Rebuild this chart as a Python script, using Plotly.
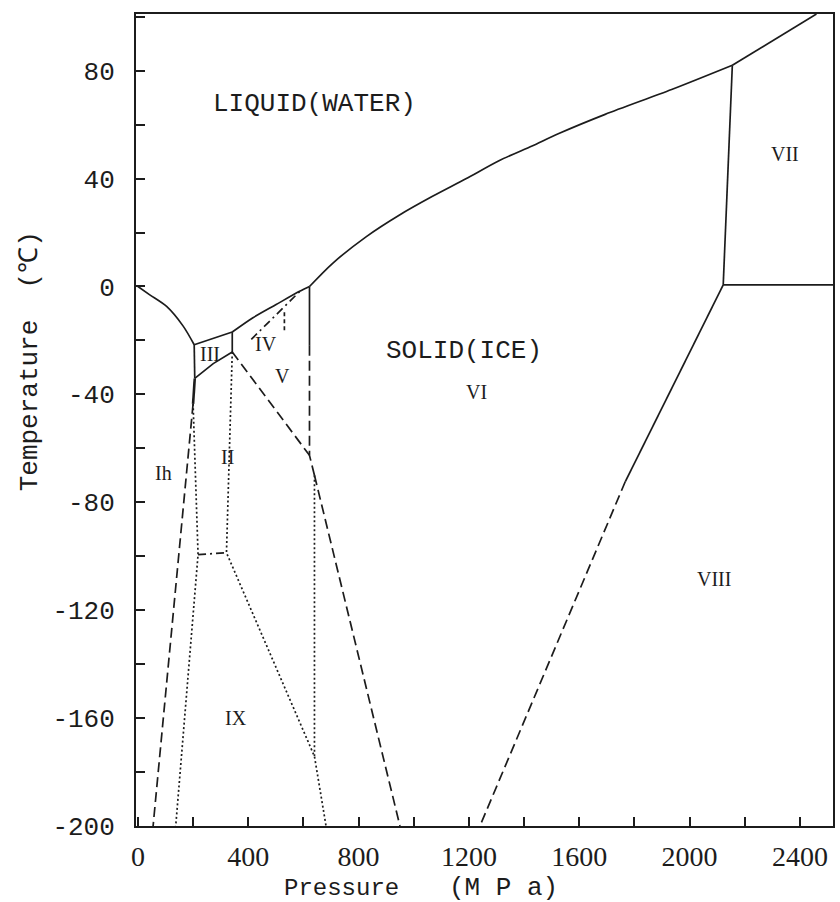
import plotly.graph_objects as go

# ---------------- data (pressure MPa, temperature degC) ----------------
# melting curves
ih_melt_p = [0, 43, 104, 164, 204]
ih_melt_t = [0, -3.1, -7.4, -14.7, -21.6]
iii_melt_p = [204, 342]
iii_melt_t = [-21.6, -16.9]
v_melt_p = [342, 417, 501, 586, 622]
v_melt_t = [-16.9, -11.6, -6.7, -1.8, 0]
vi_melt_p = [622, 706, 827, 947, 1068, 1189, 1309, 1429, 1526, 1694, 1935, 2155]
vi_melt_t = [0, 8.6, 18.4, 26.4, 33.4, 39.9, 46.6, 52.1, 56.7, 63.8, 73.0, 82.0]
vii_melt_p = [2155, 2460]
vii_melt_t = [82.0, 101]

# solid phase boundaries
ih_iii_p = [204, 206, 200]
ih_iii_t = [-21.6, -34.1, -43.5]
ii_iii_p = [206, 273, 342]
ii_iii_t = [-34.1, -28.6, -24.3]
iii_v_p = [342, 342]
iii_v_t = [-16.9, -24.3]
v_vi_solid_p = [622, 622]
v_vi_solid_t = [0, -22]
vi_vii_p = [2155, 2122]
vi_vii_t = [82.0, 0.6]
vii_viii_p = [2122, 2520]
vii_viii_t = [0.6, 0.6]
vi_viii_solid_p = [2122, 1767]
vi_viii_solid_t = [0.6, -72.3]

# dashed boundaries
ih_ii_p = [200, 55]
ih_ii_t = [-43.5, -200]
ii_v_p = [342, 622]
ii_v_t = [-24.3, -62.6]
v_vi_dash_p = [622, 622, 640]
v_vi_dash_t = [-22, -62.6, -70]
ii_vi_p = [640, 950]
ii_vi_t = [-70, -200]
vi_viii_dash_p = [1767, 1240]
vi_viii_dash_t = [-72.3, -200]
iv_v_p = [531, 531]
iv_v_t = [-9.6, -16.9]

# dotted boundaries
ih_ix_p = [200, 218, 137]
ih_ix_t = [-43.5, -99.4, -200]
ii_ix_p = [342, 321, 640, 682]
ii_ix_t = [-24.3, -98.7, -174.2, -200]
vi_ix_p = [640, 640]
vi_ix_t = [-70, -174.2]

# dash-dot boundaries
ii_ix_h_p = [218, 321]
ii_ix_h_t = [-99.4, -98.7]
iv_p = [411, 595]
iv_t = [-19.6, -1.0]

# region labels
big_labels = ["LIQUID(WATER)", "SOLID(ICE)"]
big_p = [640, 1182]
big_t = [67.6, -24]
phase_labels = ["Ih", "II", "III", "IV", "V", "VI", "VII", "VIII", "IX"]
phase_p = [91, 326, 262, 465, 525, 1229, 2345, 2090, 357]
phase_t = [-69.3, -63.1, -25.1, -21.5, -33.1, -39.1, 49.1, -108.3, -160.1]

x_ticks = [0, 400, 800, 1200, 1600, 2000, 2400]
y_ticks = [-200, -160, -120, -80, -40, 0, 40, 80]
y_tick_text = ["-200", "-160", "-120", "-80", "-40", "0", "40", "80"]

INK = "#1c1c1c"

fig = go.Figure()


def add_line(px, pt, dash="solid", width=1.7, shape="linear"):
    fig.add_trace(go.Scatter(x=px, y=pt, mode="lines", showlegend=False,
                             hoverinfo="skip",
                             line=dict(color=INK, width=width, dash=dash,
                                       shape=shape, smoothing=0.8)))


DASH = "10px,5px"
DOT = "2px,2.5px"
DASHDOT = "8px,4px,2px,4px"

add_line(ih_melt_p, ih_melt_t, shape="spline")
add_line(iii_melt_p, iii_melt_t)
add_line(v_melt_p, v_melt_t, shape="spline")
add_line(vi_melt_p, vi_melt_t, shape="spline")
add_line(vii_melt_p, vii_melt_t)
add_line(ih_iii_p[:2], ih_iii_t[:2])
add_line(ih_iii_p[1:], ih_iii_t[1:], width=2.6)
add_line(ii_iii_p, ii_iii_t)
add_line(iii_v_p, iii_v_t)
add_line(v_vi_solid_p, v_vi_solid_t)
add_line(vi_vii_p, vi_vii_t)
add_line(vii_viii_p, vii_viii_t)
add_line(vi_viii_solid_p, vi_viii_solid_t)

add_line(ih_ii_p, ih_ii_t, DASH)
add_line(ii_v_p, ii_v_t, DASH)
add_line(v_vi_dash_p, v_vi_dash_t, DASH)
add_line(ii_vi_p, ii_vi_t, DASH)
add_line(vi_viii_dash_p, vi_viii_dash_t, DASH)
add_line(iv_v_p, iv_v_t, "4px,3px")

add_line(ih_ix_p, ih_ix_t, DOT)
add_line(ii_ix_p, ii_ix_t, DOT)
add_line(vi_ix_p, vi_ix_t, DOT)

add_line(ii_ix_h_p, ii_ix_h_t, DASHDOT)
add_line(iv_p, iv_t, DASHDOT)

for txt, p, t in zip(big_labels, big_p, big_t):
    fig.add_annotation(x=p, y=t, text=txt, showarrow=False,
                       font=dict(family="Liberation Mono", size=26, color=INK))
for txt, p, t in zip(phase_labels, phase_p, phase_t):
    fig.add_annotation(x=p, y=t, text=txt, showarrow=False,
                       font=dict(family="Liberation Serif", size=20, color=INK))

# axis titles as paper annotations (pixel-placed)
fig.add_annotation(xref="paper", yref="paper", x=(30 - 136) / 699,
                   y=(826 - 361) / 812, xanchor="center", yanchor="middle",
                   text="Temperature  (℃)", textangle=-90, showarrow=False,
                   font=dict(family="Liberation Mono", size=26, color=INK))
fig.add_annotation(xref="paper", yref="paper", x=(342 - 136) / 699,
                   y=(826 - 888) / 812, xanchor="center", yanchor="middle",
                   text="Pressure", showarrow=False,
                   font=dict(family="Liberation Mono", size=24, color=INK))
fig.add_annotation(xref="paper", yref="paper", x=(505 - 136) / 699,
                   y=(826 - 888) / 812, xanchor="center", yanchor="middle",
                   text="(M P a)", showarrow=False,
                   font=dict(family="Liberation Mono", size=26, color=INK))

fig.update_layout(
    width=840, height=902,
    margin=dict(l=136, r=5, t=14, b=76),
    paper_bgcolor="white", plot_bgcolor="white",
    xaxis=dict(range=[-7, 2520], tickvals=x_ticks, ticks="inside", ticklen=9,
               tickwidth=1.5, tickcolor=INK, showgrid=False, zeroline=False,
               showline=True, linecolor=INK, linewidth=2, mirror=True,
               minor=dict(dtick=200, tick0=0, ticks="inside", ticklen=9,
                          tickwidth=1.5, tickcolor=INK, showgrid=False),
               ticklabelstandoff=4,
               tickfont=dict(family="Liberation Serif", size=28, color=INK)),
    yaxis=dict(range=[-200, 101], tickvals=y_ticks, ticktext=y_tick_text,
               ticks="inside", ticklen=9,
               tickwidth=1.5, tickcolor=INK, showgrid=False, zeroline=False,
               showline=True, linecolor=INK, linewidth=2, mirror=True,
               minor=dict(dtick=20, tick0=0, ticks="inside", ticklen=9,
                          tickwidth=1.5, tickcolor=INK, showgrid=False),
               ticklabelstandoff=14,
               tickfont=dict(family="Liberation Mono", size=26, color=INK)),
)

fig.write_html("out.html")
